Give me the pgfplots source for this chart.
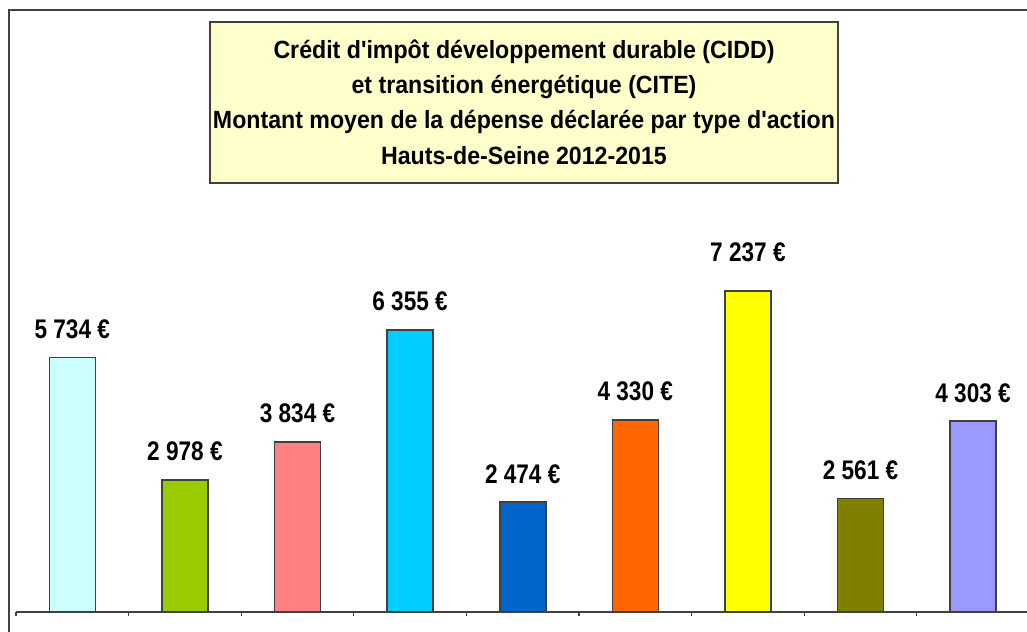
\documentclass[border=0pt]{standalone}
\usepackage{pgfplots}
\pgfplotsset{compat=1.18}
\usepackage{fontspec}
\setmainfont{Liberation Sans}
\newfontfamily\titlefont[FakeStretch=0.93]{Liberation Sans}
\newfontfamily\labelfont[FakeStretch=0.84]{Liberation Sans}
\definecolor{frame}{HTML}{404040}
\definecolor{c1}{HTML}{CCFFFF}
\definecolor{c2}{HTML}{99CC00}
\definecolor{c3}{HTML}{FF8080}
\definecolor{c4}{HTML}{00CCFF}
\definecolor{c5}{HTML}{0066CC}
\definecolor{c6}{HTML}{FF6600}
\definecolor{c7}{HTML}{FFFF00}
\definecolor{c8}{HTML}{808000}
\definecolor{c9}{HTML}{9999FF}
\definecolor{titlebg}{HTML}{FFFFCC}
\begin{document}
\begin{tikzpicture}
\useasboundingbox (0,0) rectangle (1027bp,632bp);
\clip (0,0) rectangle (1027bp,632bp);
\fill[white] (0,0) rectangle (1027bp,632bp);
\draw[frame, line width=1.5bp] (9bp,-10bp) rectangle (1045bp,622bp);
\begin{axis}[
  at={(16bp,20bp)}, anchor=south west,
  scale only axis, width=1013.4bp, height=354.9bp,
  xmin=-0.5, xmax=8.5, ymin=0, ymax=8000,
  axis x line*=bottom, axis y line=none,
  x axis line style={frame, line width=1.3bp, -},
  xtick={-0.5,0.5,...,8.5}, xticklabels={},
  tick align=outside, major tick length=4bp,
  tick style={frame, line width=1.2bp},
  ytick=\empty,
  ybar, bar width=46bp, bar shift=0pt,
  clip=false,
  point meta=explicit symbolic,
  nodes near coords,
  every node near coord/.style={anchor=south, inner sep=0pt, yshift=18bp, font=\labelfont\fontsize{27}{30}\selectfont\bfseries, text=black},
]
\addplot[draw=frame, line width=1.6bp, fill=c1] coordinates {(0,5734) [5 734 €]};
\addplot[draw=frame, line width=1.6bp, fill=c2] coordinates {(1,2978) [2 978 €]};
\addplot[draw=frame, line width=1.6bp, fill=c3] coordinates {(2,3834) [3 834 €]};
\addplot[draw=frame, line width=1.6bp, fill=c4] coordinates {(3,6355) [6 355 €]};
\addplot[draw=frame, line width=1.6bp, fill=c5] coordinates {(4,2474) [2 474 €]};
\addplot[draw=frame, line width=1.6bp, fill=c6] coordinates {(5,4330) [4 330 €]};
\addplot[draw=frame, line width=1.6bp, fill=c7, every node near coord/.append style={yshift=10bp}] coordinates {(6,7237) [7 237 €]};
\addplot[draw=frame, line width=1.6bp, fill=c8] coordinates {(7,2561) [2 561 €]};
\addplot[draw=frame, line width=1.6bp, fill=c9] coordinates {(8,4303) [4 303 €]};
\end{axis}
\draw[frame, line width=1.5bp, fill=titlebg] (210bp,449bp) rectangle (838bp,610bp);
\node[align=center, inner sep=0pt, font=\titlefont\fontsize{25}{35.5}\selectfont\bfseries] at (524bp,530bp)
 {Crédit d'impôt développement durable (CIDD)\\et transition énergétique (CITE)\\Montant moyen de la dépense déclarée par type d'action\\Hauts-de-Seine 2012-2015};
\end{tikzpicture}
\end{document}
